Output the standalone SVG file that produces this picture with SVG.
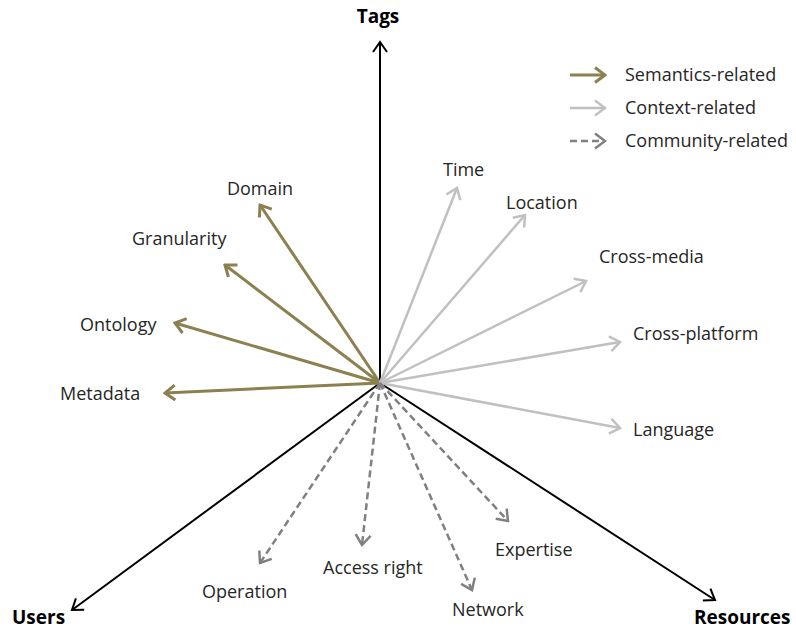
<svg xmlns="http://www.w3.org/2000/svg" width="796" height="631" viewBox="0 0 796 631">
<style>
text{font-family:"Open Sans","Liberation Sans",sans-serif;font-size:18px;fill:#262626}
.ax{font-weight:bold;font-size:19px;fill:#000}
.axl{stroke:#000;stroke-width:2;fill:none}
.sem{stroke:#8c8050;stroke-width:3;fill:none}
.ctx{stroke:#c0c0c0;stroke-width:2.5;fill:none}
.com{stroke:#808080;stroke-width:2.5;fill:none;stroke-dasharray:7 4}
</style>
<defs>
<marker id="mk" viewBox="-12 -8 14 16" markerWidth="14" markerHeight="16" refX="0" refY="0" orient="auto" markerUnits="userSpaceOnUse"><path d="M-10,-7 L0,0 L-10,7" fill="none" stroke="#000" stroke-width="2"/></marker>
<marker id="ms" viewBox="-12 -9 14 18" markerWidth="14" markerHeight="18" refX="0" refY="0" orient="auto" markerUnits="userSpaceOnUse"><path d="M-10,-7.5 L0,0 L-10,7.5" fill="none" stroke="#8c8050" stroke-width="3"/></marker>
<marker id="mc" viewBox="-12 -9 14 18" markerWidth="14" markerHeight="18" refX="0" refY="0" orient="auto" markerUnits="userSpaceOnUse"><path d="M-10,-7.5 L0,0 L-10,7.5" fill="none" stroke="#c0c0c0" stroke-width="2.5"/></marker>
<marker id="mm" viewBox="-12 -9 14 18" markerWidth="14" markerHeight="18" refX="0" refY="0" orient="auto" markerUnits="userSpaceOnUse"><path d="M-10,-7.5 L0,0 L-10,7.5" fill="none" stroke="#808080" stroke-width="2.5"/></marker>
</defs>
<g id="connectors">
<line class="axl" x1="380" y1="383" x2="380" y2="42" marker-end="url(#mk)"/>
<line class="axl" x1="380" y1="383" x2="72" y2="610" marker-end="url(#mk)"/>
<line class="axl" x1="380" y1="383" x2="715" y2="600" marker-end="url(#mk)"/>
<line class="sem" x1="380" y1="383" x2="260" y2="205" marker-end="url(#ms)"/>
<line class="sem" x1="380" y1="383" x2="225" y2="265" marker-end="url(#ms)"/>
<line class="sem" x1="380" y1="383" x2="175" y2="323" marker-end="url(#ms)"/>
<line class="sem" x1="380" y1="383" x2="165" y2="393" marker-end="url(#ms)"/>
<line class="ctx" x1="380" y1="383" x2="457" y2="188" marker-end="url(#mc)"/>
<line class="ctx" x1="380" y1="383" x2="525" y2="215" marker-end="url(#mc)"/>
<line class="ctx" x1="380" y1="383" x2="586" y2="281" marker-end="url(#mc)"/>
<line class="ctx" x1="380" y1="383" x2="620" y2="342" marker-end="url(#mc)"/>
<line class="ctx" x1="380" y1="383" x2="620" y2="428" marker-end="url(#mc)"/>
<line class="com" x1="380" y1="383" x2="260" y2="563" marker-end="url(#mm)"/>
<line class="com" x1="380" y1="383" x2="362" y2="545" marker-end="url(#mm)"/>
<line class="com" x1="380" y1="383" x2="472" y2="590" marker-end="url(#mm)"/>
<line class="com" x1="380" y1="383" x2="508" y2="521" marker-end="url(#mm)"/>
</g>
<g id="axis-tags"><text class="ax" x="378" y="23" text-anchor="middle">Tags</text></g>
<g id="axis-users"><text class="ax" x="12" y="624">Users</text></g>
<g id="axis-resources"><text class="ax" x="694" y="624">Resources</text></g>
<g id="n-domain"><text x="260" y="195" text-anchor="middle">Domain</text></g>
<g id="n-granularity"><text x="132" y="245">Granularity</text></g>
<g id="n-ontology"><text x="80" y="331">Ontology</text></g>
<g id="n-metadata"><text x="60" y="400">Metadata</text></g>
<g id="n-time"><text x="443" y="176">Time</text></g>
<g id="n-location"><text x="506" y="209">Location</text></g>
<g id="n-crossmedia"><text x="599" y="263">Cross-media</text></g>
<g id="n-crossplatform"><text x="633" y="340">Cross-platform</text></g>
<g id="n-language"><text x="633" y="436">Language</text></g>
<g id="n-operation"><text x="202" y="598">Operation</text></g>
<g id="n-access"><text x="323" y="574">Access right</text></g>
<g id="n-network"><text x="452" y="616">Network</text></g>
<g id="n-expertise"><text x="495" y="556">Expertise</text></g>
<g id="legend">
<line class="sem" x1="570" y1="75" x2="605" y2="75" marker-end="url(#ms)"/>
<text x="625" y="81">Semantics-related</text>
<line class="ctx" x1="570" y1="108" x2="605" y2="108" marker-end="url(#mc)"/>
<text x="625" y="114">Context-related</text>
<line class="com" x1="570" y1="141" x2="605" y2="141" marker-end="url(#mm)"/>
<text x="625" y="147">Community-related</text>
</g>
</svg>
